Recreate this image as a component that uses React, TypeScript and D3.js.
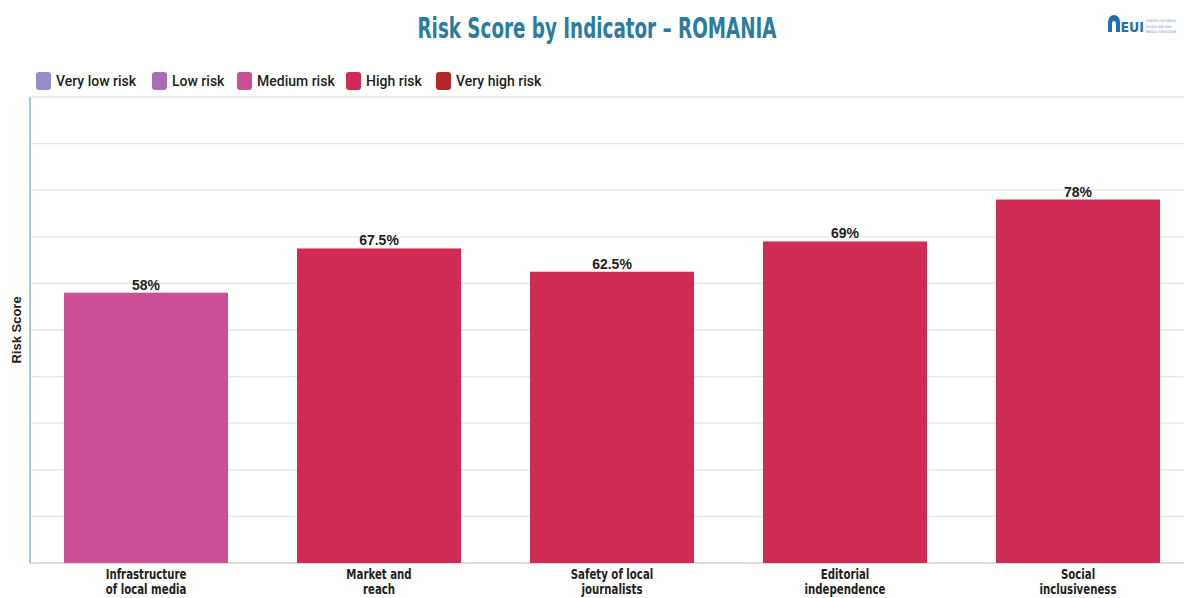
import React, { useEffect } from 'react';
import * as d3 from 'd3';

const categories = [
  ['Infrastructure', 'of local media'],
  ['Market and', 'reach'],
  ['Safety of local', 'journalists'],
  ['Editorial', 'independence'],
  ['Social', 'inclusiveness'],
];
const scores = [58, 67.5, 62.5, 69, 78];
const scoreLabels = ['58%', '67.5%', '62.5%', '69%', '78%'];
const riskLevels = ['Medium risk', 'High risk', 'High risk', 'High risk', 'High risk'];

const legendItems = ['Very low risk', 'Low risk', 'Medium risk', 'High risk', 'Very high risk'];
const legendColors = ['#958fca', '#a86db4', '#cc4f96', '#cf2b55', '#b3292a'];
const yTicks = [0, 10, 20, 30, 40, 50, 60, 70, 80, 90, 100];

const W = 1184;
const H = 598;

export default function App() {
  useEffect(() => {
    document.body.style.margin = '0';
  }, []);

  const left = 30;
  const top = 97;
  const bottom = 563;

  const y = d3.scaleLinear().domain([0, 100]).range([bottom, top]);
  const x = d3
    .scaleBand<number>()
    .domain(d3.range(categories.length))
    .range([29.5, 1194.5])
    .paddingInner(0.296)
    .paddingOuter(0.148);

  const color = d3.scaleOrdinal<string, string>().domain(legendItems).range(legendColors);

  // legend x offsets
  const legendX = [36, 152, 237, 346, 436];

  return (
    <svg width={W} height={H} style={{ display: 'block', background: '#fff' }}>
      {/* title */}
      <text
        x={597}
        y={38}
        textAnchor="middle"
        fill="#2b7c9e"
        fontFamily="'Liberation Sans Narrow', 'DejaVu Sans Condensed', sans-serif"
        fontWeight="bold"
        fontSize={29}
        textLength={359}
        lengthAdjust="spacingAndGlyphs"
      >
        Risk Score by Indicator – ROMANIA
      </text>

      {/* logo */}
      <g transform="translate(1108,14)">
        <path d="M0,18 L0,8 A6,7 0 0 1 12,8 L12,18 L8,18 L8,9 A2,2 0 0 0 4,9 L4,18 Z" fill="#1f6fb5" />
        <text x={12.5} y={18} fill="#1f6fb5" fontFamily="'DejaVu Sans Condensed', sans-serif" fontWeight="bold" fontSize={14}>
          EUI
        </text>
        {['CENTRE FOR MEDIA', 'PLURALISM AND', 'MEDIA FREEDOM'].map((t, i) => (
          <text
            key={t}
            x={38}
            y={8 + i * 5.5}
            fill="#6d8fb0"
            fontFamily="'DejaVu Sans Condensed', sans-serif"
            fontSize={3.5}
            textLength={i === 1 ? 26 : 30}
            lengthAdjust="spacingAndGlyphs"
          >
            {t}
          </text>
        ))}
      </g>

      {/* legend */}
      {legendItems.map((d, i) => (
        <g key={d} transform={`translate(${legendX[i]},72)`}>
          <rect width={15} height={18} rx={3} fill={color(d)} />
          <text x={20} y={14} fontFamily="Roboto, sans-serif" fontWeight={500} fontSize={14} fill="#222">
            {d}
          </text>
        </g>
      ))}

      {/* grid */}
      {yTicks.map((t) => (
        <line
          key={t}
          x1={left}
          x2={W}
          y1={y(t)}
          y2={y(t)}
          stroke={t === 0 ? '#cfcfcf' : '#e6e6e6'}
          strokeWidth={1.3}
        />
      ))}
      <line x1={left} x2={left} y1={top} y2={bottom} stroke="#a9c9d8" strokeWidth={2} />

      {/* y axis title */}
      <text
        transform={`translate(21,${(top + bottom) / 2}) rotate(-90)`}
        textAnchor="middle"
        fontFamily="'Liberation Sans', Arial, sans-serif"
        fontWeight="bold"
        fontSize={13}
        fill="#222"
      >
        Risk Score
      </text>

      {/* bars */}
      {scores.map((v, i) => (
        <g key={i}>
          <rect x={x(i)} y={y(v)} width={x.bandwidth()} height={y(0) - y(v)} fill={color(riskLevels[i])} />
          <text
            x={(x(i) as number) + x.bandwidth() / 2}
            y={y(v) - 3}
            textAnchor="middle"
            fontFamily="'Liberation Sans', Arial, sans-serif"
            fontWeight="bold"
            fontSize={14}
            fill="#222"
          >
            {scoreLabels[i]}
          </text>
        </g>
      ))}

      {/* category labels */}
      {categories.map((lines, i) => (
        <g key={i} transform={`translate(${(x(i) as number) + x.bandwidth() / 2},0) scale(0.84,1)`}>
          <text
            textAnchor="middle"
            fontFamily="'DejaVu Sans Condensed', sans-serif"
            fontWeight="bold"
            fontSize={13.5}
            fill="#222"
          >
            {lines.map((l, j) => (
              <tspan key={j} x={0} y={579 + j * 15}>
                {l}
              </tspan>
            ))}
          </text>
        </g>
      ))}
    </svg>
  );
}
